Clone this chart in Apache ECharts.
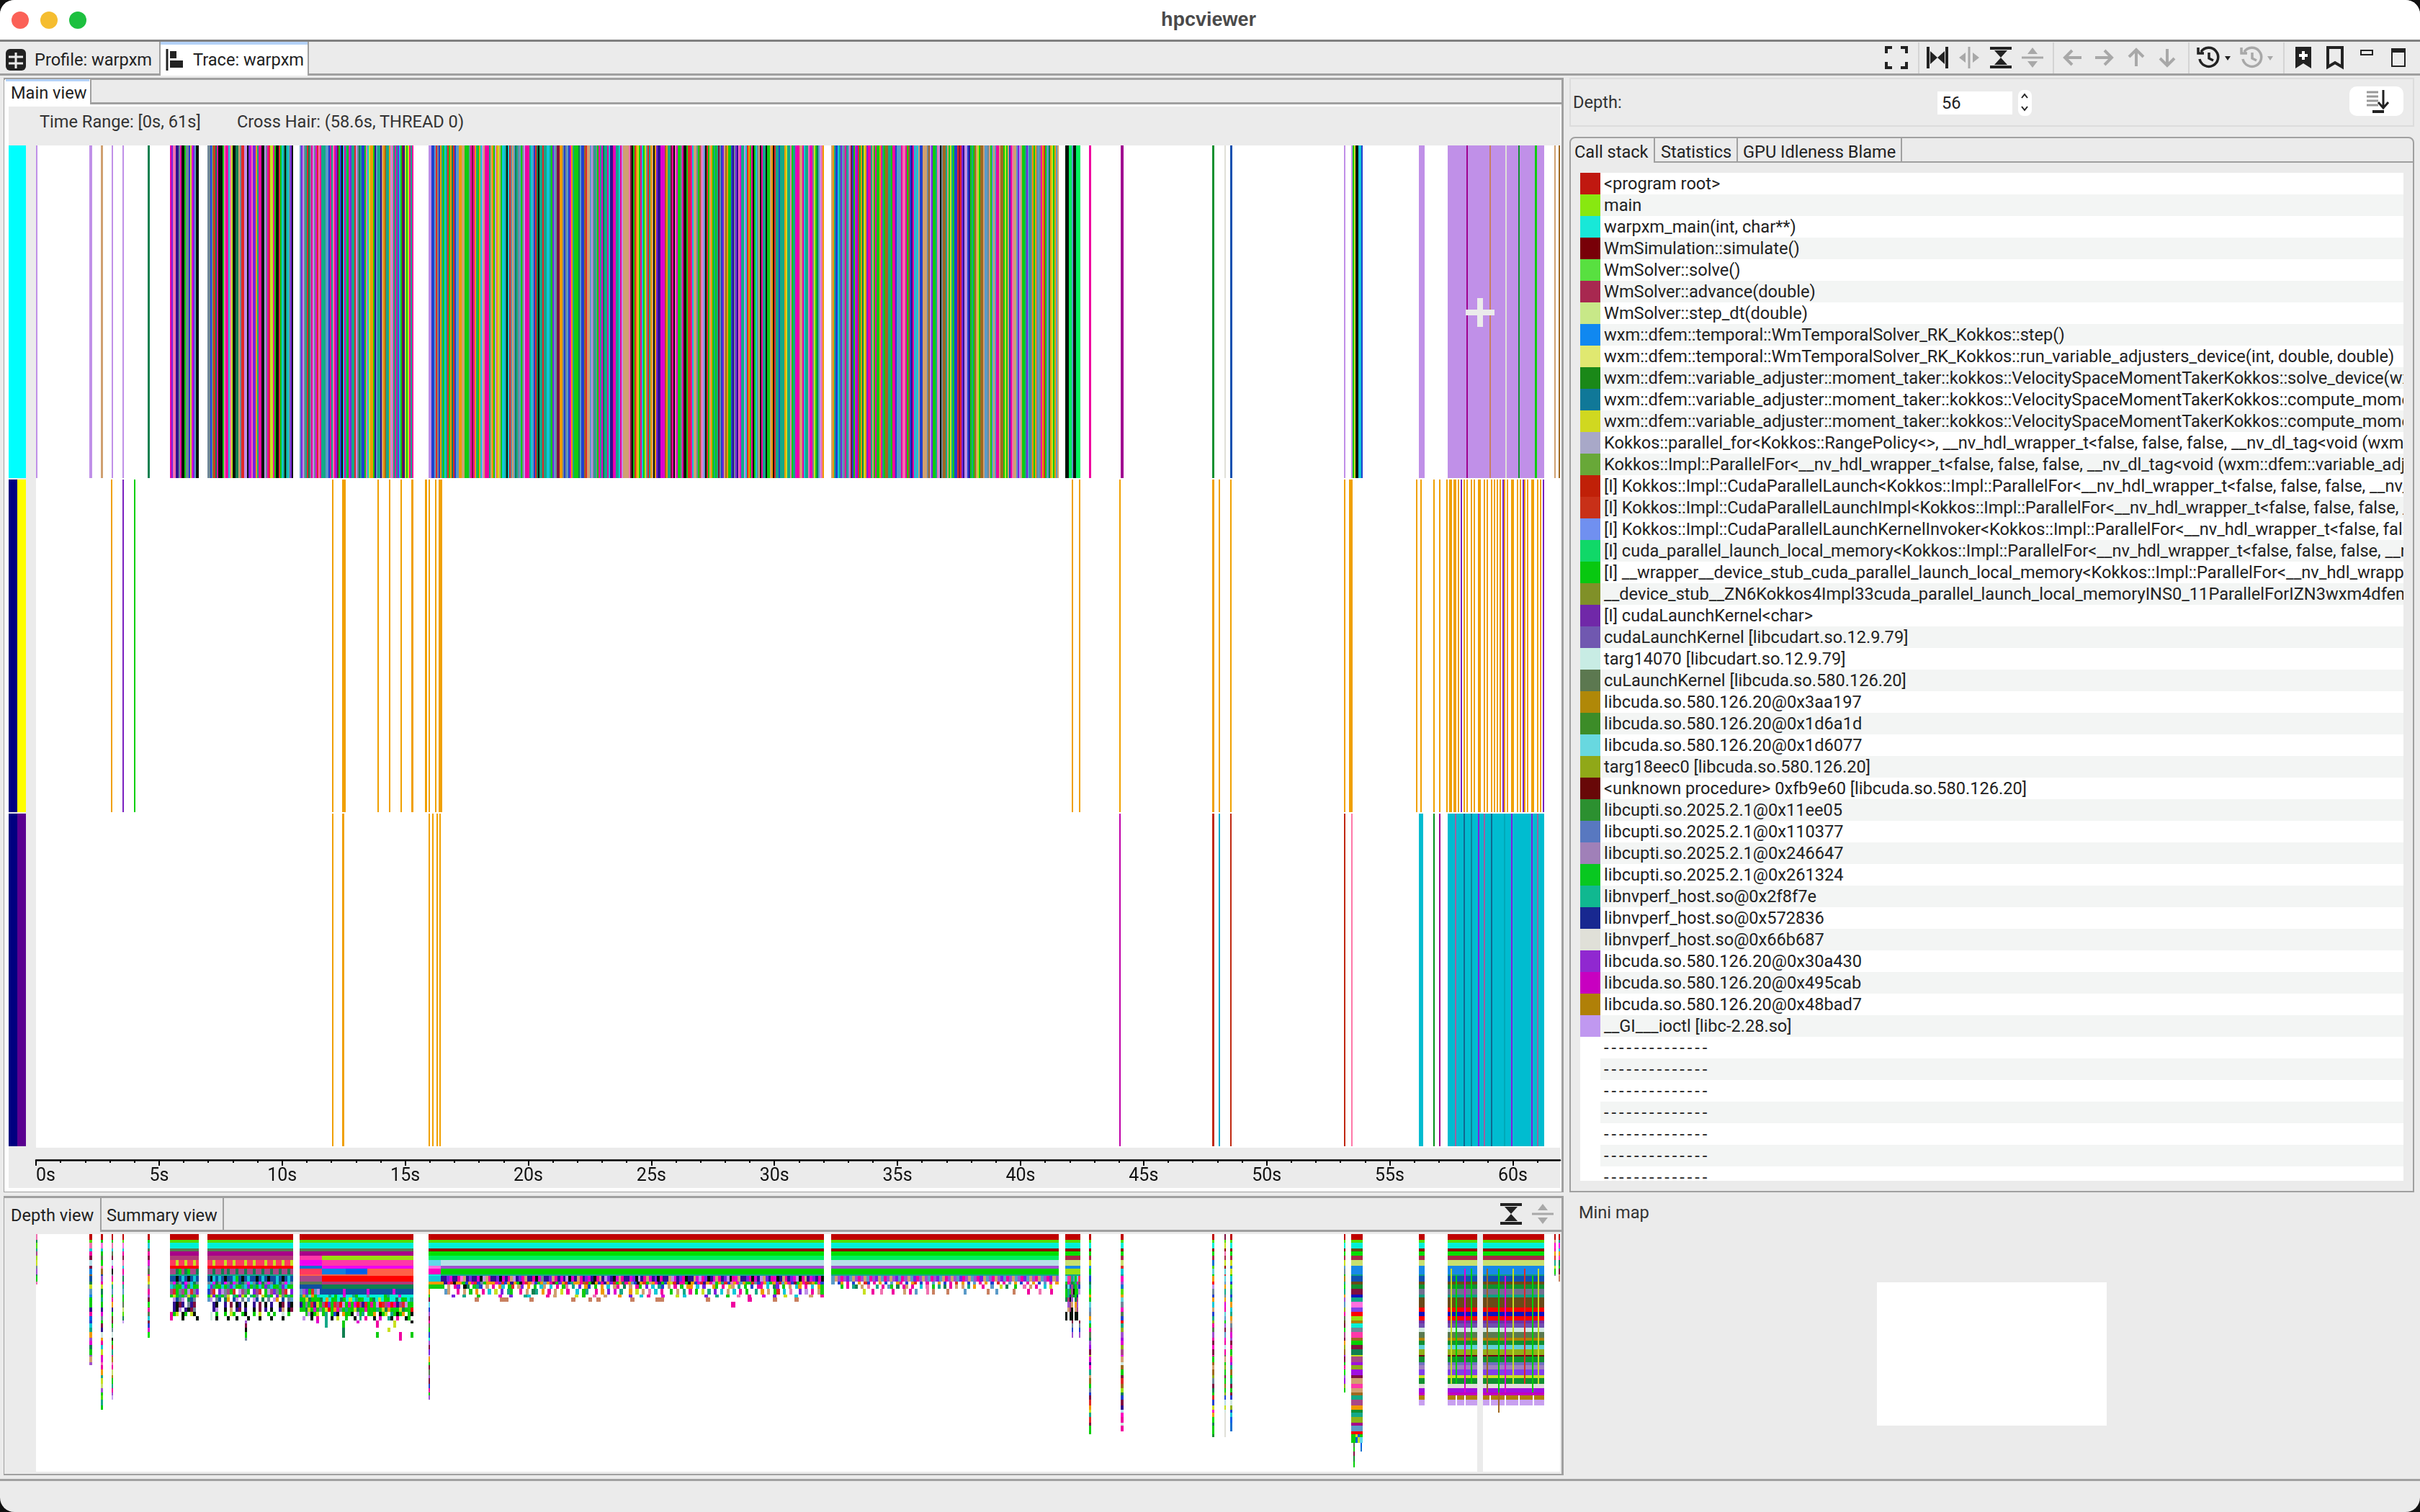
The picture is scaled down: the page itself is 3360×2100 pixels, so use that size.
<!DOCTYPE html>
<html>
<head>
<meta charset="utf-8">
<title>hpcviewer</title>
<style>
  html, body { margin: 0; width: 3360px; height: 2100px; background: #111; overflow: hidden; }
  #win { position: absolute; left: 0; top: 0; width: 3360px; height: 2100px; background: #ebebeb; border-radius: 20px; overflow: hidden;
         font-family: Roboto, "Liberation Sans", sans-serif; font-size: 23.6px; color: #222; }
  #win div { position: absolute; white-space: nowrap; }
  #chart { position: absolute; left: 0; top: 0; width: 3360px; height: 2100px; }
  #icons { position: absolute; left: 0; top: 0; }
</style>
</head>
<body>
<div id="win"></div>
<svg id="icons" width="3360" height="2100"></svg>
<div id="chart"></div>
<script src="https://cdn.jsdelivr.net/npm/echarts@6/dist/echarts.min.js"></script>
<script>
// procedure code -> colour, as hpcviewer paints them
const palette = {
  a:'#f000a0', m:'#e000d0', p:'#7a22e0', k:'#051208', g:'#10cc10', t:'#14a888', c:'#10c8d8', b:'#2040d0',
  l:'#5a9ac8', o:'#f09a00', r:'#e02828', y:'#c8e020', s:'#708898', n:'#d0a070', v:'#c090e8', d:'#801040',
  w:'#f070b0', e:'#108050', u:'#a06820', i:'#301090',
  R:'#c00000', L:'#50e000', C:'#00f0d8', G:'#5a7a50', M:'#a80088', O:'#b03878', P:'#ff3a60', E:'#ff0000',
  A:'#a84888', B:'#1050a0', H:'#900000', D:'#00e000', F:'#00f060', W:'#b8e0e8', V:'#a050d0', N:'#00d000',
  S:'#60d8e8', T:'#ff70e0', U:'#ff00c0', X:'#98e010', Y:'#ff38a8', Z:'#1070d0', I:'#f000f0', J:'#1080e0',
  K:'#0060e8', Q:'#ff6048',
  '0':'#a82848', '1':'#c8e070', '2':'#1888e8', '3':'#1050b0', '4':'#6a4a18', '5':'#109030', '6':'#707090',
  '7':'#10a080', '8':'#1010c0', '9':'#7030a8', '!':'#7050b0', '@':'#d0e8e0', '#':'#b08000', '$':'#60d0d8',
  '%':'#90b018', '^':'#700010', '&':'#7070c0', '*':'#a080c0', '(':'#8040e8', ')':'#e0e0d8', '-':'#a010e0',
  '+':'#c000c0', '=':'#c8a0f0', '~':'#c88060', '_':'#ffffff',
  // thread 1 / 2 only
  h:'#f0a000', q:'#7a20c0', x:'#00bcd0', z:'#a060a0', f:'#106890', j:'#00a8c8', '/':'#c02810', '|':'#ff78a8',
  ':':'#00901a', ';':'#a00090', ',':'#c000a8', '<':'#108098', '>':'#8020e0', '?':'#00a8b8'
};

const timeMajorTicks = [0, 5, 10, 15, 20, 25, 30, 35, 40, 45, 50, 55, 60];
const timeMinorTicks = [1, 2, 3, 4, 6, 7, 8, 9, 11, 12, 13, 14, 16, 17, 18, 19, 21, 22, 23, 24, 26, 27, 28, 29, 31, 32, 33, 34,
  36, 37, 38, 39, 41, 42, 43, 44, 46, 47, 48, 49, 51, 52, 53, 54, 56, 57, 58, 59, 61];
const timeMax = 61.92;
const crossHair = [58.67, 0];

// left colour column: from, to, thread, code
const threadColumn = [[0, 2, 0, 'C1'], [0, 1, 1, 'C2'], [1, 2, 1, 'C3'], [0, 1, 2, 'C2'], [1, 2, 2, 'C4']];
const columnColors = { C1: '#00ffff', C2: '#000080', C3: '#ffff00', C4: '#5a0090' };

// thread 0 single states: start s, end s, procedure
const thread0Spans = [
  [0, 0.05, 'v'], [2.18, 2.27, 'v'], [2.62, 2.71, 'n'], [3.06, 3.12, 'v'], [3.50, 3.56, 'v'], [4.55, 4.61, 'e'],
  [41.83, 41.95, 'k'], [41.95, 42.07, 'F'], [42.07, 42.13, 'l'], [42.13, 42.25, 'k'], [42.25, 42.42, 'F'],
  [42.77, 42.86, 'a'], [44.06, 44.18, ';'], [47.80, 47.86, '5'], [48.29, 48.33, ')'], [48.51, 48.62, '3'],
  [53.13, 53.19, 'v'], [56.18, 56.41, 'v'], [57.35, 61.27, 'v'],
  [58.11, 58.17, ';'], [59.04, 59.10, '~'], [59.69, 59.75, ')'], [60.21, 60.27, '5'], [60.91, 60.97, 'g'],
  [61.68, 61.73, 'n'], [61.85, 61.91, 'u']
];
// thread 0 dense samples: start s, end s, one procedure per sample
const thread0Samples = [
  [5.43, 6.60, 'apwwiisakkgssbymplkk'],
  [6.95, 10.46, 'ssblureakkkgwaacwykkeensrrvvkpmwppotaakkvsaryyagkkrgctktcspk'],
  [10.70, 15.32, 'lpvstresavsmrwatttllbatwapdgbkcatgmpttrvsetbbgwcyoogilttinouttovwtatpcgdiygyata'],
  [15.96, 24.56, 'vvbblrsbotgctrgoerblloonngggsadaotgocvnaaatnogvoyngcctkcrsnletslgsvaaatclbrekttrttcctgplsddoosbslbmotgggelbburnnlvstsgatmettaciiamttcavnnnnwdkgroyg'],
  [24.56, 32.00, 'acgysrtonkopiimmmuottdakwmggsakkgrracnnsguwvlkrgnogtgtdsbpnuoggbispiwmttvcrogakgcsnkattkggnokrttbtttoyttwgtmaannacttwmasygelvwo'],
  [32.32, 41.54, 'notbctplsatlwdbgmprgoeyopaatngaggoatguuttgaablllawwagubiaclcnbbnnnsuvpggtwvksuutngytgbbrdrpivvbigtgunyguunllsnglnlaanuugygnbawnnlpvnggtpltsogoslsaorgleoygoln'],
  [53.42, 53.89, 'vgykkccb']
];

// thread 1 states
const thread1Spans = [
  [3.04, 3.09, 'h'], [3.50, 3.56, 'q'], [3.97, 4.02, 'N'], [12.04, 12.10, 'h'], [12.45, 12.57, 'h'], [13.86, 13.91, 'h'],
  [14.33, 14.41, 'h'], [14.82, 14.87, 'h'], [15.26, 15.32, 'h'], [15.80, 15.88, 'h'], [15.94, 16.02, 'h'], [16.20, 16.26, 'h'],
  [16.37, 16.49, 'h'], [42.07, 42.13, 'h'], [42.36, 42.42, 'h'], [44.00, 44.06, 'h'], [47.80, 47.86, 'h'], [48.04, 48.10, 'h'],
  [48.51, 48.57, 'h'], [53.13, 53.19, 'h'], [53.36, 53.48, 'h'], [56.06, 56.12, 'h'], [56.23, 56.29, 'h'], [56.76, 56.82, 'h'],
  [57.00, 57.05, 'h'], [57.29, 57.35, 'h'], [57.40, 57.52, 'h'], [57.58, 57.70, 'h'], [57.76, 57.81, 'h'], [57.87, 57.93, 'q'],
  [57.99, 58.05, 'h'], [58.11, 58.17, 'h'], [58.28, 58.34, 'h'], [58.40, 58.46, 'h'], [58.57, 58.69, 'h'], [58.81, 58.87, 'h'],
  [58.93, 58.99, 'h'], [59.10, 59.16, 'h'], [59.22, 59.28, 'h'], [59.34, 59.40, 'h'], [59.45, 59.51, 'h'], [59.57, 59.63, 'q'],
  [59.63, 59.69, 'h'], [59.75, 59.81, 'h'], [59.92, 60.04, 'h'], [60.16, 60.21, 'h'], [60.27, 60.33, 'h'], [60.39, 60.45, 'q'],
  [60.45, 60.51, 'h'], [60.57, 60.62, 'h'], [60.74, 60.86, 'h'], [60.97, 61.03, 'h'], [61.09, 61.15, 'h'], [61.21, 61.27, 'q']
];

// thread 2 states
const thread2Spans = [
  [12.04, 12.10, 'h'], [12.45, 12.52, 'h'], [15.96, 16.00, 'h'], [16.08, 16.14, 'h'], [16.26, 16.32, 'h'], [16.40, 16.46, 'h'],
  [44.00, 44.06, ','], [47.80, 47.86, '/'], [48.04, 48.10, 'j'], [48.51, 48.57, '/'], [53.13, 53.19, '/'], [53.42, 53.48, '|'],
  [56.18, 56.35, 'x'], [56.76, 56.82, ':'], [57.00, 57.05, ';'], [57.35, 61.27, 'x'],
  [57.64, 57.70, 'z'], [57.99, 58.05, 'f'], [58.28, 58.34, '<'], [58.57, 58.63, '>'], [58.81, 58.87, 'z'], [59.10, 59.16, 'f'],
  [59.63, 59.69, '?'], [59.92, 59.98, '>'], [60.74, 60.80, '>'], [60.97, 61.03, 'z']
];

// depth view: bottom edge of each call depth on the depth axis
const depthEdges = [0, 8, 12, 20, 24, 30, 36, 44, 48, 56, 58, 66, 70, 76, 84, 88, 94, 102, 108, 114, 120, 124, 130, 136, 144, 148, 154,
  160, 168, 170, 178, 182, 188, 196, 200, 208, 214, 220, 224, 230, 238, 244, 248, 254, 262, 266, 274, 278, 282, 290, 296, 302, 308, 316, 324, 330];

const cudaStack = 'RLCHD012273456744E8E9!@G#5$%^5&*(y5)-+#=';

// depth view stacks: start s, end s, procedure per depth (. = nothing), first depth
const depthStacks = [
  [0, 0.05, 'weLtAXysVeNw'],
  [2.18, 2.27, 'RLwcadWdJuBeyl2NgiaKbctoVmegVnV'],
  [2.62, 2.71, 'RNTcgGDwuBVayeNtgimsDdi@oacyamwaoty1VgLtN'],
  [3.06, 3.12, 'RgwcGdWmksaytlgaoiD4dNs@kgrta#wa1#NtaV='],
  [3.50, 3.56, 'RLTcadwcaVeatlNgG1Le='],
  [4.55, 4.61, 'RDcGadmsGaoysaVdDaGcdbmD'],
  [5.43, 6.60, 'RLCGMO.E.t'],
  [6.95, 10.46, 'RLCGMO.E.t'],
  [8.50, 8.56, 'Vdkgs', 20],
  [10.70, 15.32, 'RLCGM'],
  [15.96, 16.45, 'RLCHDFSTUCcog'],
  [15.96, 16.02, 'oNdSbVdaGNbCVdp=oNdGVdbaNV', 13],
  [16.45, 32.00, 'RLCHDFWVNt'],
  [32.32, 41.54, 'RLCHDFWVNt'],
  [41.83, 42.42, 'RLCHD012Xt'],
  [42.07, 42.13, 'dsbV', 20],
  [42.36, 42.42, 'dsbV', 20],
  [42.77, 42.88, 'RLCHD0y2NtbetDog$lsocgaGeV-dXmiUtnuNsbdroytrdgN'],
  [44.06, 44.18, 'RLCHD01rctUVZLo$sUGbEt%V-m%AIn@uNdruXebdiWUa@a'],
  [47.80, 47.86, 'RLCHD0ZL$DoEvsbocnbt%aGVadUdaNunu%sdegrbyUoDeNN5'],
  [48.29, 48.33, 'dLyHw0yH$r$lotsoma$lNVdlUaWaGnN%gdNuN%bWy@))))))'],
  [48.51, 48.62, 'RLCHD0yZyNcbLtbtoctonsAmVdaN%a-tuNtdgdb@%bcKZZ'],
  [53.13, 53.19, 'RLCHD0ylsN#tDtoVl%aG4dDAdo%u-dNaDV-%N'],
  [53.42, 53.89, 'RLC4D012273' + '45d8tT(EX#CsYuNdeyA-%-dnYnut' + 'Ao5t%MlE'],
  [53.52, 53.56, 'Ggd5N', 49],
  [53.82, 53.87, 'KZ', 49],
  [56.18, 56.41, cudaStack],
  [57.35, 61.27, cudaStack],
  [61.68, 61.73, 'RnUaortyNs'],
  [61.85, 61.91, 'RtIcoYeNdn~']
];

// depth view runs: start s, end s, depth, procedures in time order (. = nothing)
const depthRuns = [
  [5.43, 6.60, 6, 'PPyPPyPPyP'], [5.43, 6.60, 8, 'AAeNAeNAAe'], [5.43, 6.60, 10, 'BBkBcBkBcB'], [5.43, 6.60, 11, 'sIesBIsces'],
  [5.43, 6.60, 12, 'ctgNcpgcNg'], [5.43, 6.60, 13, 'ArNsAgvrsp'], [5.43, 6.60, 14, 'NygtNsytNn'], [5.43, 6.60, 15, '.vBsv.eBs.'],
  [5.43, 6.60, 16, '.ikdi.sid.'], [5.43, 6.60, 17, '.ikv.ikds.'], [5.43, 6.60, 18, 'aNy.kg.yk.'], [5.43, 6.60, 19, 'a...k....k'],

  [6.95, 10.46, 6, 'PPyPPPyPPyPPPyPPyPPPyPPyPPyPPy'],
  [6.95, 10.46, 8, 'AAeAAeAeAAeAAeAAeAAeAAeAAeAAeA'],
  [6.95, 10.46, 10, 'BkcBcBkBBcgBkBcBBkBcBkBBcBkBcB'],
  [6.95, 10.46, 11, 'scIesBIseIsBesIcsBIesIsBcesIcs'],
  [6.95, 10.46, 12, 'cptgNcNtpcgNtcpgtNcgptcNgtpcNg'],
  [6.95, 10.46, 13, 'bAr.pvsAgr.vAsg.pAr.gvApsgAr.p'],
  [6.95, 10.46, 14, 'NypgtNsy.tNpyg.tNs.ygtN.pysNtg'],
  [6.95, 10.46, 15, 'lv.sB.eo.Bv.s.l.vB.e.s.vo.B.sl'],
  [6.95, 10.46, 16, '..ik..i.d.ki.k..i.d.k.i..kd.ik'],
  [6.95, 10.46, 17, '..iv..k.n.id.i..k.d.i.k..in.kd'],
  [6.95, 10.46, 18, '.@.g..N.yN..gk..N.y..N.g..@.N.'],
  [6.95, 10.46, 19, '.@.k...k..k...k...k...k...k...'],

  [10.70, 11.63, 5, 'Y'], [11.63, 15.32, 5, 'X'], [10.70, 11.63, 6, 'I'], [11.63, 15.32, 6, 'Y'], [10.70, 11.63, 7, 'Z'], [11.63, 15.32, 7, 'I'],
  [10.70, 11.63, 8, 'P'], [11.63, 12.58, 8, 'J'], [12.58, 13.45, 8, 'K'], [13.45, 15.32, 8, 'Q'], [10.70, 15.32, 9, 'Q'],
  [10.70, 11.63, 10, 'A'], [11.63, 15.32, 10, 'E'], [10.70, 11.63, 11, 'G'], [11.63, 15.32, 11, 'O'], [10.70, 11.63, 12, 'B'], [11.63, 15.32, 12, 'e'],
  [10.70, 15.32, 13, 'lVpNrlvBBBBBBBBmBBBBBBBmBBBBBBBBmBBBBBB'],
  [10.70, 15.32, 14, 'totSoNcCCCtCNCCmCCtNCCCsCCCCCNtCCCmCCCC'],
  [10.70, 15.32, 15, 'NgyeNgNeCoCNgCeNCyCtNgCCNeCyCgNCCeCNgCt'],
  [10.70, 15.32, 16, 'iNsgriygAEpgrAEvNagmEAirNagvErAmEaiArvgN'],
  [10.70, 15.32, 17, 'NgeyNmgsgyENoasNtgNyeNgaNgNtgyeoNgNyeNgE'],
  [10.70, 15.32, 18, '..gvkNy.gt.Nbk.oNgk.vNt.Ngo.kNy.tgkNo.gk'],
  [10.70, 15.32, 19, '.v..k.a..t.k.y..g..k.t.a..k.m..tk.a..kN.'],
  [10.70, 15.32, 20, '......m..t.....g....m......a.....y.....k'],
  [10.70, 15.32, 21, '.........t.....g...........a.....y......'],
  [10.70, 15.32, 22, '...............e...............y........'],
  [10.70, 15.32, 23, '...............e...........g.......a...g'],
  [10.70, 15.32, 24, '...................................a....'],

  [16.45, 32.00, 10, 'iipmiiaTnipiimkvnaiipkmianvipaniiakmsiipnaimivkminaipmikanivpikmnaiimpkvianmipkaiinvmipakiinmvapkimnaipvkamniipakmivnpiamkinaipmvkanimpiak'],
  [16.45, 32.00, 11, 'oiarkoogboarbsgoooaprboiogkarowbgoloadgporbtooaurgkobaioprgoeaolbkorgnoaigboyriaagkobmrioavgotrbwoaloggrsbaocgoprloabdgoaruogmb'],
  [16.45, 32.00, 12, 'g.n.ap.ke.gtb.n.a.oc.gr.np.o.g.cn.c.a.gw.t.p.ob.g.o.c.na.e.n.ag.p.c.tb.n.a.g.oo.c.p..og.a.yn.t.g.b.aa.c.ep.g.n.co.a.c.og'],
  [16.45, 32.00, 13, '.ln..a.n.g.o.a.c.y.p.tg..a.n.et.o.a.n.y.a..c.gt..a.o.p.m.t..o.y.n.w.c.a..g.n.t.a.g.y.t.p.c.n.c.a.g..t.o.n.gr.c.w..p.v.a.ng'],
  [16.45, 32.00, 14, '...p..t...g.....m..p...tc....a.n.....y.g..w..n...o..p..c.a...m...y.c.....p..t..g..w..a...m..p..y..c...n..a'],
  [16.45, 32.00, 15, '........~.....~~.....~.........~...~.~.......~.....~~..........~.........a.....~....~......'],
  [16.45, 32.00, 16, '.....................................................................a.....................'],

  [32.32, 41.54, 10, 'lnVaVplnVaVnlaVpnlaVnVplaVnlpaVnVlaVplnaVnVlpaVnlVapnlVanVplaVnlVaplnVanlVapnV'],
  [32.32, 41.54, 11, 'l.bo.a.b.o.rb.a.o.b.l.oa.b.or.b.a.l.o.b.a.r.o.b.l.a.o.b.r.a.l.o.b.a.o.b.l.a.o'],
  [32.32, 41.54, 12, '...g.a.te.n.w..t.a.lg.e.an.a..c.w.g.t.e.a.n.n.t.o..a..l..y.e..g..w.n.a..c.y..'],
  [32.32, 41.54, 13, '...........y..a..w...a...n.a.l...w.~....~.....l.......~..l.....~....a...w...a..'],

  [41.83, 42.42, 10, 'SYPtlgSP'], [41.83, 42.42, 11, 'gaAeNtaG'], [41.83, 42.42, 12, 'eSbAeNsb'], [41.83, 42.42, 13, 'NtgAkNgv'],
  [41.83, 42.42, 14, 'NtiGeNi.'], [41.83, 42.42, 15, 'eOkV.eO.'], [41.83, 42.42, 16, '.VAn.oV.'], [41.83, 42.42, 17, '.nOk.nA.'],
  [41.83, 42.42, 18, 'k.kk.kk.'], [41.83, 42.42, 19, 'k.kk.kk.'],

  [53.42, 53.89, 47, 'NgyKN'], [53.42, 53.89, 48, 'gNKyS']
];

// depth view: thin call paths across the long stacks: time s, first depth, last depth, procedure
const depthCrossings = [
  [57.46, 8, 34, 'y'], [57.67, 10, 34, 'N'], [58.02, 8, 36, 'm'], [58.28, 8, 34, 'N'], [58.94, 8, 36, 'u'], [59.39, 8, 36, 'N'],
  [59.66, 10, 36, 'm'], [59.98, 8, 34, 'y'], [60.45, 8, 34, 'r'], [60.77, 10, 36, 'N'], [61.00, 8, 34, 'y'], [59.39, 37, 41, 'u'],
  [57.67, 38, 39, '_'], [58.02, 38, 39, '_'], [59.05, 38, 39, '_'], [59.66, 38, 39, '_'], [60.21, 38, 39, '_'], [60.80, 38, 39, '_'],
  [32.05, 0, 8, '_']
];

const procNames = [
  '<program root>', 'main', 'warpxm_main(int, char**)', 'WmSimulation::simulate()', 'WmSolver::solve()', 'WmSolver::advance(double)',
  'WmSolver::step_dt(double)', 'wxm::dfem::temporal::WmTemporalSolver_RK_Kokkos::step()',
  'wxm::dfem::temporal::WmTemporalSolver_RK_Kokkos::run_variable_adjusters_device(int, double, double)',
  'wxm::dfem::variable_adjuster::moment_taker::kokkos::VelocitySpaceMomentTakerKokkos::solve_device(wxm::dfem::DeviceArray)',
  'wxm::dfem::variable_adjuster::moment_taker::kokkos::VelocitySpaceMomentTakerKokkos::compute_moment_device(int)',
  'wxm::dfem::variable_adjuster::moment_taker::kokkos::VelocitySpaceMomentTakerKokkos::compute_moment_kernel(int)',
  'Kokkos::parallel_for<Kokkos::RangePolicy<>, __nv_hdl_wrapper_t<false, false, false, __nv_dl_tag<void (wxm::dfem::variable_adjuster',
  'Kokkos::Impl::ParallelFor<__nv_hdl_wrapper_t<false, false, false, __nv_dl_tag<void (wxm::dfem::variable_adjuster::moment_taker',
  '[I] Kokkos::Impl::CudaParallelLaunch<Kokkos::Impl::ParallelFor<__nv_hdl_wrapper_t<false, false, false, __nv_dl_tag<void',
  '[I] Kokkos::Impl::CudaParallelLaunchImpl<Kokkos::Impl::ParallelFor<__nv_hdl_wrapper_t<false, false, false, __nv_dl_tag<void',
  '[I] Kokkos::Impl::CudaParallelLaunchKernelInvoker<Kokkos::Impl::ParallelFor<__nv_hdl_wrapper_t<false, false, false',
  '[I] cuda_parallel_launch_local_memory<Kokkos::Impl::ParallelFor<__nv_hdl_wrapper_t<false, false, false, __nv_dl_tag<void',
  '[I] __wrapper__device_stub_cuda_parallel_launch_local_memory<Kokkos::Impl::ParallelFor<__nv_hdl_wrapper_t<false',
  '__device_stub__ZN6Kokkos4Impl33cuda_parallel_launch_local_memoryINS0_11ParallelForIZN3wxm4dfem16variable_adjuster',
  '[I] cudaLaunchKernel<char>', 'cudaLaunchKernel [libcudart.so.12.9.79]', 'targ14070 [libcudart.so.12.9.79]',
  'cuLaunchKernel [libcuda.so.580.126.20]', 'libcuda.so.580.126.20@0x3aa197', 'libcuda.so.580.126.20@0x1d6a1d',
  'libcuda.so.580.126.20@0x1d6077', 'targ18eec0 [libcuda.so.580.126.20]', '<unknown procedure> 0xfb9e60 [libcuda.so.580.126.20]',
  'libcupti.so.2025.2.1@0x11ee05', 'libcupti.so.2025.2.1@0x110377', 'libcupti.so.2025.2.1@0x246647', 'libcupti.so.2025.2.1@0x261324',
  'libnvperf_host.so@0x2f8f7e', 'libnvperf_host.so@0x572836', 'libnvperf_host.so@0x66b687', 'libcuda.so.580.126.20@0x30a430',
  'libcuda.so.580.126.20@0x495cab', 'libcuda.so.580.126.20@0x48bad7', '__GI___ioctl [libc-2.28.so]',
  '--------------', '--------------', '--------------', '--------------', '--------------', '--------------', '--------------'
];
const procColors = ['#c01810', '#88e810', '#18e8d8', '#780008', '#58e040', '#a82850', '#c8e888', '#1088f0', '#e0e870', '#1a8818',
  '#107898', '#d0d820', '#a8a8c8', '#68a838', '#c02008', '#c83018', '#7090f0', '#10d868', '#08c810', '#809028', '#7028a8', '#7058b0',
  '#c8ece4', '#5c7850', '#b08808', '#3c8c28', '#68d8e0', '#90a818', '#680808', '#2c9030', '#5878c0', '#a080b8', '#08c820', '#10b890',
  '#182890', '#e0e0d8', '#9028d0', '#c800c0', '#b08008', '#c098f0', '#fff', '#fff', '#fff', '#fff', '#fff', '#fff', '#fff'];

// ---------- window chrome ----------
const win = document.getElementById('win');
function box(x, y, w, h, bg, extra) {
  const d = document.createElement('div');
  d.style.cssText = `left:${x}px;top:${y}px;width:${w}px;height:${h}px;background:${bg};${extra || ''}`;
  win.appendChild(d);
  return d;
}
function label(x, cy, text, extra) {
  const d = document.createElement('div');
  d.style.cssText = `left:${x}px;top:${cy - 15}px;height:30px;line-height:30px;${extra || ''}`;
  d.textContent = text;
  win.appendChild(d);
  return d;
}
const LINE = '#a0a0a0';

box(0, 0, 3360, 56, '#fff');
box(0, 55, 3360, 3, '#808080');
box(16, 16, 24, 24, '#fb6157', 'border-radius:50%');
box(56, 16, 24, 24, '#f5bd30', 'border-radius:50%');
box(96, 16, 24, 24, '#1dc03f', 'border-radius:50%');
label(1612, 27, 'hpcviewer', 'font-family:"Liberation Sans";font-weight:bold;font-size:27px;color:#4a4a4a');

// perspective tabs
box(0, 102, 3360, 3, LINE);
box(221, 58, 208, 47, '#fff', 'border-left:2px solid #a0a0a0;border-right:2px solid #a0a0a0;box-sizing:border-box');
box(223, 58, 204, 4, '#b4d2f8');
label(48, 83, 'Profile: warpxm');
label(268, 83, 'Trace: warpxm');

// main panel
box(5, 108, 2166, 1548, '#fff', `border:1px solid ${LINE};border-top:3px solid ${LINE};border-right:3px solid ${LINE};box-sizing:border-box`);
box(7, 111, 2161, 32, '#ebebeb');
box(7, 142, 2161, 3, LINE);
box(7, 110, 118, 35, '#fff', `border-right:2px solid ${LINE}`);
box(8, 110, 116, 3, '#b4d2f8');
label(15, 129, 'Main view');
box(12, 148, 2154, 54, '#ebebeb');
label(55, 169, 'Time Range: [0s, 61s]', 'color:#333');
label(329, 169, 'Cross Hair: (58.6s, THREAD 0)', 'color:#333');
box(12, 202, 38, 1392, '#ebebeb');
box(12, 1594, 2154, 56, '#ebebeb');

// depth panel
box(5, 1661, 2166, 388, '#ebebeb', `border:1px solid ${LINE};border-top:3px solid ${LINE};border-right:3px solid ${LINE};border-bottom:2px solid ${LINE};box-sizing:border-box`);
box(139, 1708, 2030, 3, LINE);
box(139, 1664, 2, 46, LINE);
box(309, 1664, 2, 46, LINE);
label(15, 1688, 'Depth view');
label(148, 1688, 'Summary view');
box(0, 2054, 3360, 3, LINE);

// right panel: depth selector
box(2179, 108, 1173, 68, '#ebebeb', 'border:2px solid #dcdcdc;box-sizing:border-box');
label(2184, 142, 'Depth:', 'color:#333');
box(2690, 127, 104, 32, '#fff');
label(2696, 143, '56', 'color:#222');
box(2802, 125, 19, 36, '#fff', 'border-radius:8px');
box(3262, 120, 75, 41, '#fff', 'border-radius:10px');

// right panel: call stack
box(2179, 190, 1173, 1466, '#ebebeb', `border:2px solid ${LINE};border-radius:8px 8px 0 0;box-sizing:border-box`);
box(2296, 224, 1055, 2, LINE);
box(2296, 192, 2, 33, LINE);
box(2411, 192, 2, 33, LINE);
box(2639, 192, 2, 33, LINE);
label(2186, 211, 'Call stack');
label(2306, 211, 'Statistics');
label(2420, 211, 'GPU Idleness Blame');

const listBox = box(2194, 240, 1143, 1400, '#fff', 'overflow:hidden');
procNames.forEach((name, i) => {
  const row = document.createElement('div');
  const spacing = name.startsWith('--') ? 'letter-spacing:4px;' : '';
  row.style.cssText = `left:28px;top:${i * 30}px;width:1115px;height:30px;line-height:30px;overflow:hidden;background:${i % 2 ? '#f3f5f4' : '#fff'};text-indent:5px;${spacing}`;
  row.textContent = name;
  listBox.appendChild(row);
  const sw = document.createElement('div');
  sw.style.cssText = `left:0;top:${i * 30}px;width:28px;height:30px;background:${procColors[i]}`;
  listBox.appendChild(sw);
});
label(2192, 1684, 'Mini map', 'color:#333');
box(2606, 1781, 319, 199, '#fff');

// toolbar icons
const D = '#222', Z = '#a8a8a8';
const shapes = {
  corners: c => `<path d="M-14 -6V-14H-6M6 -14H14V-6M14 6V14H6M-6 14H-14V6" fill="none" stroke="${c}" stroke-width="4"/>`,
  zoomH: c => `<path d="M-13 -15V15M13 -15V15" stroke="${c}" stroke-width="4"/><path d="M-10 -9L0 0L-10 9ZM10 -9L0 0L10 9Z" fill="${c}"/>`,
  fitH: c => `<path d="M0 -15V15" stroke="${c}" stroke-width="3"/><path d="M-5 -7L-14 0L-5 7ZM5 -7L14 0L5 7Z" fill="${c}"/>`,
  arrow: c => `<path d="M12 0H-10M-1 -10L-11 0L-1 10" fill="none" stroke="${c}" stroke-width="4"/>`,
  history: c => `<path d="M-11 -8A13 13 0 1 1 -13 2M-15 -14V-6H-7M0 -7V1L6 4" fill="none" stroke="${c}" stroke-width="3.5"/>`,
  drop: c => `<path d="M-4 -3H4L0 3Z" fill="${c}"/>`,
  markAdd: c => `<path d="M-11 -15H11V15L0 8L-11 15Z" fill="${c}"/><path d="M0 -9V3M-6 -3H6" stroke="#fff" stroke-width="4"/>`,
  mark: c => `<path d="M-10 -14H10V13L0 7L-10 13Z" fill="none" stroke="${c}" stroke-width="4"/>`,
  min: c => `<rect x="-8" y="-3" width="16" height="6" fill="none" stroke="${c}" stroke-width="2"/>`,
  max: c => `<rect x="-9" y="-12" width="18" height="24" fill="none" stroke="${c}" stroke-width="2"/><path d="M-9 -9H9" stroke="${c}" stroke-width="4"/>`,
  sortDown: c => `<path d="M-14 -12H2M-14 -6H2M-14 0H2M-14 6H2" stroke="#999" stroke-width="3"/><path d="M9 -15V8M2 2L9 10L16 2" fill="none" stroke="${c}" stroke-width="3"/><path d="M-6 15H10" stroke="${c}" stroke-width="4"/>`,
  chevUp: c => `<path d="M-4 2L0 -3L4 2" fill="none" stroke="${c}" stroke-width="2"/>`,
  table: c => `<rect x="-14" y="-15" width="28" height="30" rx="6" fill="${c}"/><path d="M-10 -4H10M-10 5H10M0 -10V12" stroke="#ebebeb" stroke-width="3"/>`,
  trace: c => `<path d="M-11 -15V15" stroke="${c}" stroke-width="3"/><rect x="-7" y="-12" width="9" height="10" fill="${c}"/><rect x="-7" y="1" width="18" height="10" fill="${c}"/>`
};
const iconPlacements = [
  ['table', 22, 83, D, 0], ['trace', 243, 83, D, 0], ['corners', 2633, 80, D, 0], ['zoomH', 2690, 80, D, 0], ['fitH', 2734, 80, Z, 0],
  ['zoomH', 2778, 80, D, 90], ['fitH', 2822, 80, Z, 90], ['arrow', 2878, 80, Z, 0], ['arrow', 2921, 80, Z, 180], ['arrow', 2966, 80, Z, 90],
  ['arrow', 3009, 80, Z, 270], ['history', 3067, 80, D, 0], ['drop', 3093, 81, D, 0], ['history', 3127, 80, Z, 0], ['drop', 3152, 81, Z, 0],
  ['markAdd', 3198, 80, D, 0], ['mark', 3242, 80, D, 0], ['min', 3286, 73, D, 0], ['max', 3330, 80, D, 0], ['sortDown', 3300, 140, D, 0],
  ['chevUp', 2811, 134, D, 0], ['chevUp', 2811, 150, D, 180], ['zoomH', 2098, 1686, D, 90], ['fitH', 2142, 1686, Z, 90]
];
const iconSeps = [2663, 2850, 3038, 3170];
document.getElementById('icons').innerHTML =
  iconPlacements.map(([s, x, y, c, rot]) => `<g transform="translate(${x} ${y}) rotate(${rot})">${shapes[s](c)}</g>`).join('') +
  iconSeps.map(x => `<rect x="${x}" y="59" width="2" height="43" fill="#d4d4d4"/>`).join('');

// ---------- charts ----------
function expandThread(spans, samples, row) {
  const out = spans.map(s => [s[0], s[1], row, row + 1, s[2]]);
  (samples || []).forEach(([t0, t1, codes]) => {
    const step = (t1 - t0) / codes.length;
    for (let i = 0; i < codes.length; i++) out.push([t0 + i * step, t0 + (i + 1) * step, row, row + 1, codes[i]]);
  });
  return out;
}
function expandDepth() {
  const out = [];
  depthStacks.forEach(([t0, t1, codes, first]) => {
    const from = first || 0;
    for (let i = 0; i < codes.length; i++) {
      if (codes[i] !== '.') out.push([t0, t1, depthEdges[from + i], depthEdges[from + i + 1], codes[i]]);
    }
  });
  depthRuns.forEach(([t0, t1, d, codes]) => {
    const step = (t1 - t0) / codes.length;
    for (let i = 0; i < codes.length; i++) {
      if (codes[i] !== '.') out.push([t0 + i * step, t0 + (i + 1) * step, depthEdges[d], depthEdges[d + 1], codes[i]]);
    }
  });
  depthCrossings.forEach(([t, a, b, code]) => out.push([t, t + 0.06, depthEdges[a], depthEdges[b + 1], code]));
  return out;
}

const threadData = [
  ...expandThread(thread0Spans, thread0Samples, 0),
  ...expandThread(thread1Spans, [], 1),
  ...expandThread(thread2Spans, [], 2)
];
const depthData = expandDepth();

// bars are snapped to whole pixels so the thin states stay crisp like the real viewer
function spanRenderer(rows, colors, gap) {
  return (params, api) => {
    const a = api.coord([api.value(0), api.value(2)]);
    const b = api.coord([api.value(1), api.value(3)]);
    const x0 = Math.round(a[0]), x1 = Math.round(b[0]);
    const y0 = Math.round(a[1]), y1 = Math.round(b[1]);
    return {
      type: 'rect',
      shape: { x: x0, y: y0, width: Math.max(x1 - x0, 2), height: y1 - y0 - gap },
      style: { fill: colors[rows[params.dataIndex][4]] },
      silent: true
    };
  };
}
function renderCrossMarker(params, api) {
  const p = api.coord([api.value(0), api.value(1) + 0.5]);
  const x = Math.round(p[0]), y = Math.round(p[1]);
  return {
    type: 'group',
    children: [
      { type: 'rect', shape: { x: x - 4, y: y - 20, width: 8, height: 40 }, style: { fill: '#ebebeb' } },
      { type: 'rect', shape: { x: x - 20, y: y - 4, width: 40, height: 8 }, style: { fill: '#ebebeb' } }
    ]
  };
}
function renderCrossBand(params, api) {
  const top = api.coord([api.value(0), 0]);
  const bottom = api.coord([api.value(0), 330]);
  return {
    type: 'rect',
    shape: { x: Math.round(top[0]) - 4, y: top[1], width: 8, height: bottom[1] - top[1] },
    style: { fill: '#ebebeb' }
  };
}

const chart = echarts.init(document.getElementById('chart'), null, { renderer: 'canvas' });
const hidden = { show: false };
chart.setOption({
  animation: false,
  tooltip: { show: false },
  grid: [
    { left: 50, width: 2116, top: 202, height: 1392, show: true, backgroundColor: '#fff', borderWidth: 0 },
    { left: 12, width: 24, top: 202, height: 1392, show: false },
    { left: 50, width: 2116, top: 1714, height: 330, show: true, backgroundColor: '#fff', borderWidth: 0 }
  ],
  xAxis: [
    {
      gridIndex: 0, type: 'value', min: 0, max: timeMax, position: 'bottom', offset: 17,
      splitLine: hidden,
      axisLine: { onZero: false, lineStyle: { color: '#000', width: 2.5 } },
      axisTick: { customValues: timeMajorTicks, length: 8, lineStyle: { color: '#000', width: 2 } },
      axisLabel: {
        customValues: timeMajorTicks, formatter: v => v + 's', color: '#111', margin: 10,
        fontFamily: 'Roboto', fontSize: 25, alignMinLabel: 'left'
      }
    },
    {
      gridIndex: 0, type: 'value', min: 0, max: timeMax, position: 'bottom', offset: 17,
      splitLine: hidden, axisLine: { onZero: false, show: false }, axisLabel: hidden,
      axisTick: { customValues: timeMinorTicks, length: 4, lineStyle: { color: '#000', width: 2 } }
    },
    { gridIndex: 1, type: 'value', min: 0, max: 2, show: false },
    { gridIndex: 2, type: 'value', min: 0, max: timeMax, show: false }
  ],
  yAxis: [
    { gridIndex: 0, type: 'value', min: 0, max: 3, inverse: true, show: false },
    { gridIndex: 1, type: 'value', min: 0, max: 3, inverse: true, show: false },
    { gridIndex: 2, type: 'value', min: 0, max: 330, inverse: true, show: false }
  ],
  series: [
    {
      type: 'custom', xAxisIndex: 0, yAxisIndex: 0, clip: true, silent: true,
      renderItem: spanRenderer(threadData, palette, 2),
      encode: { x: [0, 1], y: [2, 3] },
      data: threadData.map(r => r.slice(0, 4))
    },
    {
      type: 'custom', xAxisIndex: 2, yAxisIndex: 1, silent: true,
      renderItem: spanRenderer(threadColumn.map(r => [r[0], r[1], r[2], r[2] + 1, r[3]]), columnColors, 2),
      encode: { x: [0, 1], y: [2, 3] },
      data: threadColumn.map(r => [r[0], r[1], r[2], r[2] + 1])
    },
    {
      type: 'custom', xAxisIndex: 3, yAxisIndex: 2, silent: true,
      renderItem: spanRenderer(depthData, palette, 0),
      encode: { x: [0, 1], y: [2, 3] },
      data: depthData.map(r => r.slice(0, 4))
    },
    {
      type: 'custom', xAxisIndex: 0, yAxisIndex: 0, silent: true, z: 5,
      renderItem: renderCrossMarker, data: [crossHair]
    },
    {
      type: 'custom', xAxisIndex: 3, yAxisIndex: 2, silent: true, z: 5,
      renderItem: renderCrossBand, data: [[crossHair[0], 0]]
    }
  ]
});
</script>
</body>
</html>
